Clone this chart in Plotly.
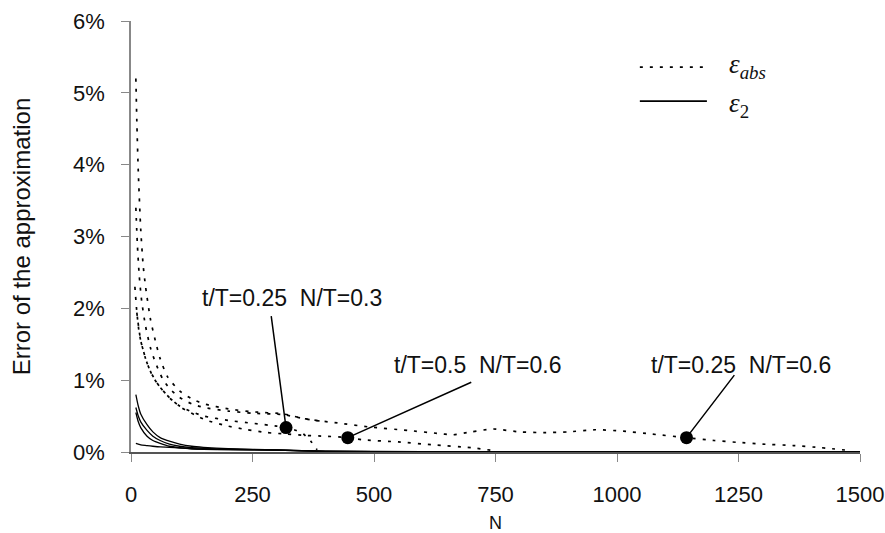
import plotly.graph_objects as go

# ---- ε_abs curves (dotted), error in percent versus N ----
abs_n_1 = [10, 12, 15, 20, 25, 30, 40, 50, 60, 75, 100, 125, 150, 200, 250, 313, 360, 430,
           488, 570, 630, 663, 700, 745, 800, 850, 900, 955, 1013, 1071, 1143, 1200, 1246,
           1300, 1363, 1420, 1480]
abs_v_1 = [5.2, 4.6, 3.9, 3.1, 2.6, 2.3, 1.85, 1.55, 1.3, 1.05, 0.85, 0.74, 0.67, 0.6, 0.56,
           0.53, 0.46, 0.4, 0.35, 0.3, 0.26, 0.24, 0.28, 0.32, 0.28, 0.27, 0.28, 0.31, 0.29,
           0.25, 0.2, 0.16, 0.135, 0.11, 0.09, 0.06, 0.02]

abs_n_2 = [10, 13, 17, 22, 30, 40, 50, 65, 80, 100, 125, 150, 200, 250, 313, 360, 400]
abs_v_2 = [3.4, 2.9, 2.45, 2.1, 1.75, 1.45, 1.25, 1.02, 0.88, 0.76, 0.67, 0.62, 0.57, 0.54,
           0.52, 0.46, 0.42]

abs_n_3 = [8, 12, 16, 20, 30, 40, 50, 60, 80, 100, 125, 150, 200, 250, 300, 319, 340, 355,
           370, 383]
abs_v_3 = [2.3, 1.95, 1.7, 1.55, 1.3, 1.12, 1.0, 0.9, 0.75, 0.64, 0.56, 0.5, 0.44, 0.4,
           0.36, 0.34, 0.3, 0.25, 0.15, 0.03]

abs_n_4 = [12, 20, 33, 45, 60, 80, 101, 130, 156, 200, 239, 280, 320, 360, 400, 446, 476,
           550, 620, 700, 745]
abs_v_4 = [1.94, 1.55, 1.24, 1.05, 0.9, 0.75, 0.63, 0.52, 0.44, 0.36, 0.31, 0.27, 0.25,
           0.23, 0.22, 0.2, 0.17, 0.14, 0.1, 0.06, 0.02]

# ---- ε_2 curves (solid) ----
l2_n = [10, 15, 20, 33, 45, 60, 79, 100, 125, 149, 200, 300, 400, 600, 800, 1000, 1200, 1500]
l2_v_1 = [0.8, 0.64, 0.53, 0.38, 0.28, 0.2, 0.15, 0.11, 0.08, 0.065, 0.045, 0.03, 0.012,
          0.006, 0.005, 0.004, 0.003, 0.002]
l2_v_2 = [0.62, 0.5, 0.42, 0.3, 0.22, 0.16, 0.11, 0.08, 0.06, 0.05, 0.038, 0.028, 0.01,
          0.005, 0.004, 0.003, 0.003, 0.002]
l2_v_3 = [0.55, 0.42, 0.34, 0.22, 0.16, 0.12, 0.08, 0.06, 0.045, 0.038, 0.032, 0.025, 0.01,
          0.005, 0.004, 0.003, 0.003, 0.002]
l2_v_4 = [0.12, 0.11, 0.1, 0.09, 0.08, 0.07, 0.065, 0.055, 0.045, 0.04, 0.035, 0.025,
          0.01, 0.005, 0.004, 0.003, 0.003, 0.002]

# ---- highlighted points and their labels ----
pt_n = [319, 446, 1143]
pt_v = [0.34, 0.2, 0.2]
pt_text = ["t/T=0.25  N/T=0.3", "t/T=0.5  N/T=0.6", "t/T=0.25  N/T=0.6"]

x_ticks = [0, 250, 500, 750, 1000, 1250, 1500]
y_ticks = [0, 1, 2, 3, 4, 5, 6]
y_tick_text = ["0%", "1%", "2%", "3%", "4%", "5%", "6%"]

FONT = "Liberation Sans, Arial, sans-serif"
DOT = "3px,7px"
fig = go.Figure()

abs_sets = [(abs_n_1, abs_v_1), (abs_n_2, abs_v_2), (abs_n_3, abs_v_3), (abs_n_4, abs_v_4)]
for n, v in abs_sets:
    fig.add_trace(go.Scatter(
        x=n, y=v, mode="lines", showlegend=False,
        line=dict(color="black", width=1.7, dash=DOT, shape="spline", smoothing=0.6),
    ))

for v in [l2_v_1, l2_v_2, l2_v_3, l2_v_4]:
    fig.add_trace(go.Scatter(
        x=l2_n, y=v, mode="lines", showlegend=False,
        line=dict(color="black", width=1.3, shape="spline", smoothing=0.6),
    ))

fig.add_trace(go.Scatter(
    x=pt_n, y=pt_v, mode="markers",
    marker=dict(color="black", size=13), showlegend=False,
))

# leader lines from the labels down to the points
tails = [(-15, -113), (125, -56), (49, -64)]
for n, v, (ax, ay) in zip(pt_n, pt_v, tails):
    fig.add_annotation(x=n, y=v, ax=ax, ay=ay, text="", showarrow=True,
                       arrowhead=0, arrowwidth=1.5, arrowcolor="black")

# label centres relative to their points (pixels, y up)
label_shift = [(6, 130), (130, 73), (54, 73)]
for n, v, t, (dx, dy) in zip(pt_n, pt_v, pt_text, label_shift):
    fig.add_annotation(x=n, y=v, text=t, showarrow=False, xshift=dx, yshift=dy,
                       font=dict(family=FONT, size=23, color="#111"))

# legend key: line samples plus math-style labels
fig.add_shape(type="line", xref="paper", yref="paper", x0=0.698, x1=0.787, y0=0.893, y1=0.893,
              line=dict(color="black", width=1.7, dash=DOT))
fig.add_shape(type="line", xref="paper", yref="paper", x0=0.698, x1=0.790, y0=0.814, y1=0.814,
              line=dict(color="black", width=1.6))
fig.add_annotation(xref="paper", yref="paper", x=0.817, y=0.895, xanchor="left",
                   yanchor="middle", showarrow=False,
                   text="<i>ε</i><sub><i>abs</i></sub>",
                   font=dict(family="Liberation Serif, serif", size=27, color="#111"))
fig.add_annotation(xref="paper", yref="paper", x=0.817, y=0.806, xanchor="left",
                   yanchor="middle", showarrow=False,
                   text="<i>ε</i><sub>2</sub>",
                   font=dict(family="Liberation Serif, serif", size=27, color="#111"))

fig.update_layout(
    width=885, height=533,
    margin=dict(l=131, r=25, t=21, b=81, autoexpand=False),
    paper_bgcolor="white", plot_bgcolor="white",
    showlegend=False,
    xaxis=dict(range=[0, 1500], tickvals=x_ticks, showgrid=False, zeroline=False,
               automargin=False,
               showline=True, linecolor="#555", linewidth=1.5,
               ticks="outside", ticklen=8, tickcolor="#888", tickwidth=1.2,
               ticklabelstandoff=14,
               tickfont=dict(family=FONT, size=22, color="#111"),
               title=dict(text="N", standoff=19, font=dict(family=FONT, size=18, color="#111"))),
    yaxis=dict(range=[0, 6], tickvals=y_ticks, ticktext=y_tick_text, showgrid=False,
               zeroline=False, showline=True, linecolor="#888", linewidth=1.5,
               automargin=False,
               ticks="outside", ticklen=8, tickcolor="#888", tickwidth=1.2,
               ticklabelstandoff=12,
               tickfont=dict(family=FONT, size=22, color="#111"),
               title=dict(text="Error of the approximation", standoff=36,
                          font=dict(family=FONT, size=24, color="#111"))),
)

fig.write_html("out.html")
